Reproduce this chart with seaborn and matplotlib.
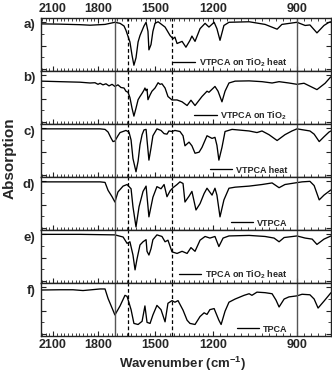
import numpy as np
import matplotlib
matplotlib.use("Agg")
import matplotlib.pyplot as plt
from matplotlib.ticker import FixedLocator, MultipleLocator
import seaborn as sns

# spectres (nombre d'onde en cm-1, absorption normalisee 0..1 par panneau)
wn_a = [2180, 2053, 1920, 1853, 1763, 1711, 1684, 1663, 1653, 1632, 1621, 1611, 1600, 1589, 1579,
        1558, 1547, 1537, 1532, 1521, 1511, 1500, 1484, 1448, 1422, 1407, 1397, 1386, 1360, 1340,
        1319, 1309, 1293, 1267, 1241, 1221, 1196, 1186, 1175, 1161, 1143, 1071, 1014, 971, 954,
        900, 871, 854, 829, 804, 786, 779]
ab_a = [.89, .885, .875, .865, .88, .92, .90, .85, .77, .55, .30, .11, .25, .55, .67,
        .85, .92, .75, .40, .50, .75, .90, .93, .83, .67, .61, .64, .52, .56, .45,
        .58, .66, .56, .80, .90, .83, .92, .80, .58, .86, .92, .93, .88, .79, .88,
        .92, .86, .87, .72, .86, .92, .93]

wn_b = [2180, 2053, 1920, 1853, 1820, 1800, 1789, 1774, 1758, 1742, 1726, 1711, 1695, 1679, 1663,
        1653, 1642, 1632, 1621, 1611, 1600, 1589, 1579, 1568, 1558, 1553, 1547, 1542, 1537, 1526,
        1516, 1500, 1484, 1474, 1464, 1448, 1433, 1412, 1386, 1360, 1334, 1314, 1293, 1257, 1231,
        1221, 1193, 1182, 1168, 1157, 1143, 1121, 1071, 1025, 989, 964, 929, 900, 875, 829,
        800, 780]
ab_b = [.81, .80, .79, .775, .78, .75, .77, .74, .76, .72, .75, .71, .74, .69, .68,
        .62, .60, .50, .30, .15, .30, .46, .52, .58, .64, .68, .63, .66, .46, .55,
        .62, .68, .78, .75, .76, .68, .52, .455, .455, .42, .35, .45, .35, .52, .62,
        .60, .71, .62, .42, .62, .775, .81, .815, .80, .775, .80, .775, .75, .77, .65,
        .77, .89]

wn_c = [2180, 1920, 1789, 1763, 1747, 1732, 1721, 1711, 1695, 1684, 1653, 1637, 1626, 1616, 1600,
        1589, 1579, 1568, 1558, 1547, 1542, 1532, 1521, 1511, 1490, 1469, 1453, 1438, 1428, 1412,
        1397, 1371, 1355, 1345, 1324, 1309, 1293, 1272, 1257, 1231, 1205, 1193, 1186, 1179, 1168,
        1157, 1132, 1071, 1043, 1025, 1000, 971, 943, 918, 900, 854, 839, 821, 804, 786, 779]
ab_c = [.91, .91, .91, .90, .85, .74, .67, .68, .78, .84, .88, .85, .70, .35, .10,
        .30, .61, .80, .89, .90, .70, .32, .55, .78, .91, .88, .82, .81, .87, .86,
        .88, .86, .78, .59, .66, .59, .45, .47, .56, .78, .73, .75, .60, .32, .56,
        .86, .90, .87, .84, .87, .80, .69, .80, .87, .91, .87, .81, .67, .76, .85, .87]

wn_d = [2180, 1920, 1789, 1763, 1747, 1726, 1711, 1695, 1668, 1647, 1626, 1616, 1600, 1584, 1563,
        1547, 1532, 1511, 1490, 1469, 1453, 1438, 1422, 1407, 1386, 1371, 1355, 1345, 1324, 1309,
        1288, 1267, 1246, 1231, 1205, 1193, 1186, 1175, 1161, 1143, 1121, 1071, 1025, 989, 964,
        943, 907, 882, 854, 839, 821, 804, 779]
ab_d = [.91, .91, .91, .90, .75, .63, .53, .72, .83, .86, .78, .44, .06, .44, .73,
        .83, .25, .62, .82, .78, .86, .63, .74, .80, .86, .91, .88, .53, .64, .73,
        .38, .50, .69, .79, .66, .79, .66, .25, .57, .79, .81, .83, .86, .89, .80,
        .86, .89, .91, .92, .84, .57, .66, .76]

wn_e = [2180, 1920, 1711, 1668, 1647, 1632, 1616, 1605, 1595, 1579, 1563, 1547, 1542, 1532, 1521,
        1511, 1490, 1464, 1448, 1433, 1412, 1386, 1360, 1334, 1314, 1293, 1267, 1241, 1216, 1193,
        1179, 1164, 1143, 1071, 1014, 982, 964, 946, 900, 871, 846, 829, 804, 779]
ab_e = [.92, .92, .91, .87, .75, .78, .53, .25, .45, .72, .78, .82, .60, .53, .65,
        .82, .91, .88, .78, .81, .59, .56, .60, .56, .67, .60, .81, .88, .85, .88,
        .69, .85, .89, .90, .88, .85, .78, .86, .89, .85, .83, .73, .83, .89]

wn_f = [2180, 2053, 1967, 1900, 1789, 1763, 1747, 1726, 1711, 1684, 1658, 1647, 1626, 1611, 1589,
        1568, 1553, 1542, 1526, 1511, 1490, 1469, 1448, 1433, 1412, 1397, 1381, 1355, 1334, 1319,
        1293, 1267, 1246, 1231, 1216, 1196, 1179, 1171, 1157, 1143, 1121, 1089, 1071, 1061, 1043,
        1014, 989, 975, 964, 946, 929, 900, 882, 854, 839, 825, 804, 779]
ab_f = [.87, .875, .875, .86, .89, .89, .71, .53, .40, .57, .77, .75, .50, .24, .22,
        .28, .57, .26, .24, .40, .58, .50, .27, .62, .67, .64, .67, .49, .30, .24,
        .22, .37, .44, .41, .50, .52, .30, .22, .47, .64, .70, .77, .80, .77, .83,
        .82, .80, .68, .55, .70, .74, .76, .79, .78, .70, .53, .66, .82]

panel_tags = ["a)", "b)", "c)", "d)", "e)", "f)"]
samples = ["VTPCA on TiO$_2$ heat", "VTPCA on TiO$_2$", "VTPCA heat",
           "VTPCA", "TPCA on TiO$_2$ heat", "TPCA"]
spectra = [(wn_a, ab_a), (wn_b, ab_b), (wn_c, ab_c), (wn_d, ab_d), (wn_e, ab_e), (wn_f, ab_f)]

solid_marks = [1710, 900]
dashed_marks = [1642, 1412]
major_wn = [2100, 1800, 1500, 1200, 900]

# echelle non lineaire de l'axe (reperes lus sur l'original), croissante
knot_wn = np.array([0, 779, 900, 1200, 1500, 1800, 2180, 4000])
knot_pos = -np.array([549, 331, 297, 213, 155, 98, 41, -232])


def fwd(w):
    return np.interp(w, knot_wn, knot_pos)


def inv(p):
    return np.interp(p, knot_pos, knot_wn)


sns.set_theme(style="ticks")
plt.rcParams["font.family"] = ["Liberation Sans", "DejaVu Sans"]
plt.rcParams["font.weight"] = "bold"
plt.rcParams["mathtext.fontset"] = "custom"
plt.rcParams["mathtext.bf"] = "Liberation Sans:bold"
plt.rcParams["mathtext.rm"] = "Liberation Sans:bold"
plt.rcParams["mathtext.default"] = "bf"

fig, axes = plt.subplots(6, 1, sharex=True, figsize=(3.32, 3.76), dpi=100,
                         gridspec_kw=dict(hspace=0))
fig.subplots_adjust(left=0.1235, right=0.997, top=0.952, bottom=0.106)

for i, ax in enumerate(axes):
    wn, ab = spectra[i]
    sns.lineplot(x=wn, y=ab, ax=ax, color="black", lw=0.95, sort=False,
                 estimator=None, label=samples[i])
    for v in solid_marks:
        ax.axvline(v, color="#555555", lw=1.0)
    for v in dashed_marks:
        ax.axvline(v, color="black", lw=0.9, ls=(0, (3, 2)))
    ax.set_xscale("function", functions=(fwd, inv))
    ax.set_ylim(0, 1)
    ax.set_yticks([0.04, 0.48, 0.92])
    ax.set_yticks([0.26, 0.70], minor=True)
    ax.set_yticklabels([])
    ax.set_ylabel("")
    for s in ax.spines.values():
        s.set_linewidth(1.0)
        s.set_color("#222222")
    ax.tick_params(axis="both", which="both", direction="in", color="#222222",
                   right=True, top=(i == 0), bottom=True,
                   labelbottom=(i == 5), labeltop=(i == 0), labelsize=9, pad=2)
    ax.tick_params(which="major", length=3.5, width=0.8)
    ax.tick_params(which="minor", length=2, width=0.6)
    ax.text(-0.02, 0.86, panel_tags[i], transform=ax.transAxes, ha="right",
            va="center", fontsize=9.5, fontweight="bold")
    ax.legend(loc="lower right", bbox_to_anchor=(0.862, -0.02), frameon=False,
              prop={"size": 6.5, "weight": "bold"}, handlelength=2.5,
              handletextpad=0.4, borderaxespad=0.2, borderpad=0.2)

axes[0].set_xlim(2180, 779)
axes[0].xaxis.set_major_locator(FixedLocator(major_wn))
axes[0].xaxis.set_minor_locator(MultipleLocator(25))
for ax in axes:
    for lab in ax.get_xticklabels():
        lab.set_fontweight("bold")

fig.text(0.03, 1 - 158 / 376, "Absorption", rotation=90, ha="center", va="center",
         fontsize=11, fontweight="bold")
fig.text(183 / 332, 1 - 364 / 376, "Wavenumber (cm$^{-1}$)", ha="center", va="center",
         fontsize=9.5, fontweight="bold")

fig.savefig("out.png", dpi=100)
